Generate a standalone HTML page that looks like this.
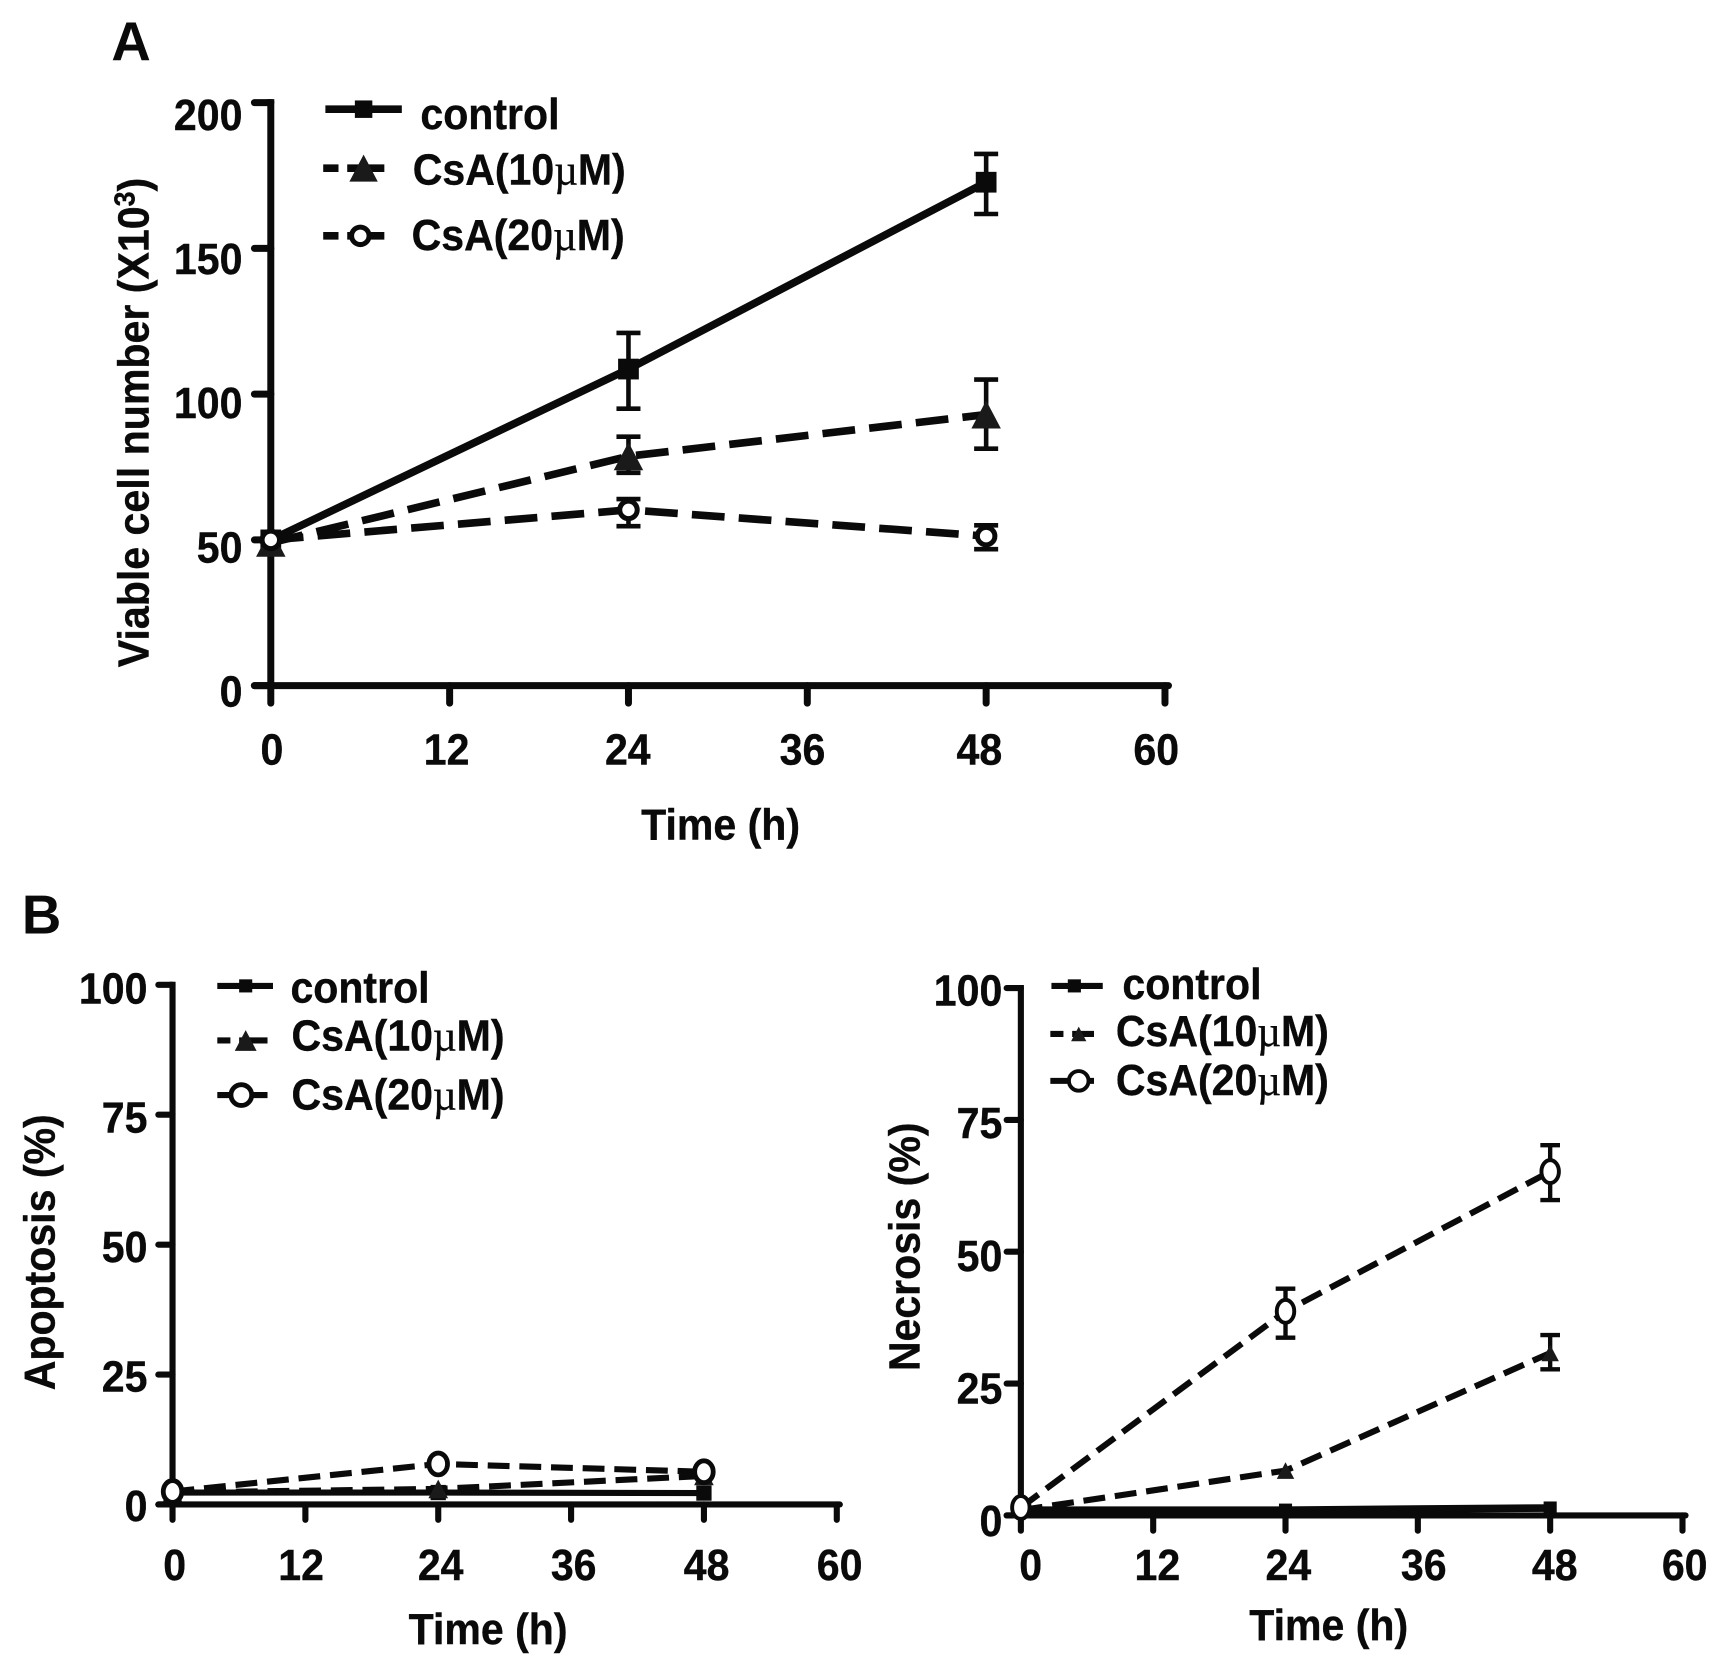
<!DOCTYPE html>
<html>
<head>
<meta charset="utf-8">
<title>Cell viability, apoptosis and necrosis over time</title>
<style>
html,body{margin:0;padding:0;background:#fff;}
svg{display:block;}
text{font-family:"Liberation Sans",sans-serif;font-weight:bold;fill:#0a0a0a;font-size:37.6px;}
.mu{font-family:"Liberation Serif",serif;font-weight:normal;}
</style>
</head>
<body>
<svg id="figure" width="1712" height="1658" viewBox="0 0 1568 1518.6" xmlns="http://www.w3.org/2000/svg">
  <rect x="0" y="0" width="1568" height="1518.6" fill="#fff"/>
  <text class="panel" x="102" y="55" style="font-size:50px">A</text>
  <text class="panel" x="20" y="855" style="font-size:50px">B</text>

  <text transform="translate(136,387) rotate(-90)" text-anchor="middle">Viable cell number (X10<tspan dy="-13" style="font-size:26px">3</tspan><tspan dy="13">)</tspan></text>
  <text x="660" y="769" text-anchor="middle">Time (h)</text>
  <text transform="translate(50,1147) rotate(-90)" text-anchor="middle">Apoptosis (%)</text>
  <text x="447" y="1506" text-anchor="middle">Time (h)</text>
  <text transform="translate(842,1142) rotate(-90)" text-anchor="middle">Necrosis (%)</text>
  <text x="1217" y="1502" text-anchor="middle">Time (h)</text>

  <text x="385" y="118">control</text>
  <text x="378" y="169">CsA(10<tspan class="mu">µ</tspan>M)</text>
  <text x="377" y="229">CsA(20<tspan class="mu">µ</tspan>M)</text>

  <text x="266" y="918">control</text>
  <text x="267" y="962">CsA(10<tspan class="mu">µ</tspan>M)</text>
  <text x="267" y="1016">CsA(20<tspan class="mu">µ</tspan>M)</text>

  <text x="1028" y="915">control</text>
  <text x="1022" y="958">CsA(10<tspan class="mu">µ</tspan>M)</text>
  <text x="1022" y="1003">CsA(20<tspan class="mu">µ</tspan>M)</text>
</svg>
<script>
// Shared categories and tick labels
const hours = [0, 24, 48];
const xTickLabels = [0, 12, 24, 36, 48, 60];
const viabilityTicks = [0, 50, 100, 150, 200];
const percentTicks = [0, 25, 50, 75, 100];

// Panel A: viable cell number
const viableControl = [50, 108.6, 172.7];
const viableControlHigh = [50, 121, 182.4];
const viableControlLow = [50, 95, 161.8];
const viableCsA10 = [49, 78.7, 93];
const viableCsA10High = [49, 85.4, 105];
const viableCsA10Low = [49, 73, 81.3];
const viableCsA20 = [50, 60.3, 51.3];
const viableCsA20High = [50, 64, 55];
const viableCsA20Low = [50, 54.7, 46.8];

// Panel B left: apoptosis
const apoptosisControl = [2.3, 2.3, 2.2];
const apoptosisCsA10 = [2.3, 3, 5.5];
const apoptosisCsA20 = [2.5, 7.8, 6.3];

// Panel B right: necrosis
const necrosisControl = [1, 1, 1.4];
const necrosisCsA10 = [1, 8.5, 30.8];
const necrosisCsA10High = [1, 8.5, 34.2];
const necrosisCsA10Low = [1, 8.5, 27.7];
const necrosisCsA20 = [1.5, 38.7, 65.2];
const necrosisCsA20High = [1.5, 43, 70.2];
const necrosisCsA20Low = [1.5, 33.7, 59.8];

const NS = 'http://www.w3.org/2000/svg';
const svg = document.getElementById('figure');

function make(tag, attrs, parent) {
  const el = document.createElementNS(NS, tag);
  for (const k in attrs) el.setAttribute(k, attrs[k]);
  (parent || svg).appendChild(el);
  return el;
}

function drawMarker(g, kind, cx, cy, size, circleRx, circleRy, sw, name) {
  let m;
  if (kind === 'square') {
    m = make('rect', {x: cx - size / 2, y: cy - size / 2, width: size, height: size, fill: '#0a0a0a'}, g);
  } else if (kind === 'triangle') {
    const h = size * 0.95;
    m = make('polygon', {points: (cx - size / 2) + ',' + (cy + h / 2) + ' ' + (cx + size / 2) + ',' + (cy + h / 2) + ' ' + cx + ',' + (cy - h / 2), fill: '#1a1a1a'}, g);
  } else {
    m = make('ellipse', {cx: cx, cy: cy, rx: circleRx, ry: circleRy, fill: '#fff', stroke: '#0a0a0a', 'stroke-width': sw}, g);
  }
  
  
}

function drawAxes(p) {
  const g = make('g', {}, svg);
  
  
  const top = p.y(p.yTicks[p.yTicks.length - 1]);
  const yAxis = make('line', {x1: p.x(0), x2: p.x(0), y1: top - p.axisW / 2, y2: p.y(0), stroke: '#0a0a0a', 'stroke-width': p.axisW}, g);
  
  
  const xAxis = make('line', {x1: p.x(0) - p.tick, x2: p.x(60) + p.axisW / 2, y1: p.y(0), y2: p.y(0), stroke: '#0a0a0a', 'stroke-width': p.axisW, 'stroke-linecap': 'round'}, g);
  
  
  p.yTicks.forEach(function (v) {
    const t = make('line', {x1: p.x(0) - p.tick, x2: p.x(0), y1: p.y(v), y2: p.y(v), stroke: '#0a0a0a', 'stroke-width': p.axisW, 'stroke-linecap': 'round'}, g);
    
    
    const l = make('text', {x: p.yLabelX, y: p.yLabel(v) + 14, 'text-anchor': 'end'}, g);
    l.textContent = v;
    
    
  });
  xTickLabels.forEach(function (v) {
    const t = make('line', {x1: p.x(v), x2: p.x(v), y1: p.y(0), y2: p.y(0) + p.tick + 1, stroke: '#0a0a0a', 'stroke-width': p.axisW, 'stroke-linecap': 'round'}, g);
    
    
    const l = make('text', {x: p.xLabel(v), y: p.xLabelY + 14, 'text-anchor': 'middle'}, g);
    l.textContent = v;
    
    
  });
}

function drawSeries(p, s) {
  const g = make('g', {}, svg);
  
  
  if (s.high && s.low) {
    hours.forEach(function (h, i) {
      if (s.high[i] === s.low[i]) return;
      const cx = p.x(h), y1 = p.y(s.high[i]), y2 = p.y(s.low[i]);
      const eb = make('path', {d: 'M' + (cx - p.cap) + ' ' + y1 + 'H' + (cx + p.cap) + 'M' + cx + ' ' + y1 + 'V' + y2 + 'M' + (cx - p.cap) + ' ' + y2 + 'H' + (cx + p.cap), fill: 'none', stroke: '#0a0a0a', 'stroke-width': p.errW}, g);
      
      
    });
  }
  const pts = hours.map(function (h, i) { return p.x(h) + ',' + p.y(s.values[i]); }).join(' ');
  const line = make('polyline', {points: pts, fill: 'none', stroke: '#0a0a0a', 'stroke-width': s.width || p.lineW}, g);
  if (s.dash) line.setAttribute('stroke-dasharray', p.dash);
  
  
  hours.forEach(function (h, i) {
    drawMarker(g, s.kind, p.x(h), p.y(s.values[i]), s.size, p.rx, p.ry, p.markW, p.id + '-' + s.name + '-point');
  });
}

function drawLegendKey(p, name, x1, x2, y, kind, mx, size, dash) {
  const g = make('g', {}, svg);
  
  
  const l = make('line', {x1: x1, x2: x2, y1: y, y2: y, stroke: '#0a0a0a', 'stroke-width': p.lineW}, g);
  if (dash) l.setAttribute('stroke-dasharray', dash);
  
  
  drawMarker(g, kind, mx, y, size, p.legendR, p.legendR, p.markW, p.id + '-legend-marker-' + name);
}

const panelA = {
  id: 'viable', axisW: 6.4, lineW: 7, errW: 4.2, markW: 4.6, cap: 11, tick: 15, rx: 8, ry: 8, legendR: 8, dash: '30 13',
  yTicks: viabilityTicks,
  x: function (v) { return 248 + v * 13.65; },
  y: function (v) { return 628 - v * 2.67; },
  yLabelX: 222,
  yLabel: function (v) { return 633 - v * 2.64; },
  xLabel: function (v) { return 249 + v * 13.5 + (v === 12 ? -2 : 0) + (v === 24 ? 2 : 0); },
  xLabelY: 686
};
const panelL = {
  id: 'apoptosis', axisW: 5.6, lineW: 5.6, errW: 4, markW: 4.4, cap: 9, tick: 13, rx: 8.5, ry: 10, legendR: 9.5, dash: '20 9',
  yTicks: percentTicks,
  x: function (v) { return 158 + v * 10.14; },
  y: function (v) { return 1378 - v * 4.76; },
  yLabelX: 135,
  yLabel: function (v) { return 1379 - v * 4.74; },
  xLabel: function (v) { return 160 + v * 10.15 + (v === 12 ? -6 : 0); },
  xLabelY: 1433
};
const panelR = {
  id: 'necrosis', axisW: 5.6, lineW: 5.6, errW: 4, markW: 3.6, cap: 9, tick: 13, rx: 8, ry: 10.5, legendR: 9, dash: '20 9',
  yTicks: percentTicks,
  x: function (v) { return 935 + v * 10.1; },
  y: function (v) { return 1388 - v * 4.83; },
  yLabelX: 918,
  yLabel: function (v) { return 1393 - v * 4.86; },
  xLabel: function (v) { return 944 + v * 10 + (v === 12 ? -4 : 0) + (v === 24 ? -4 : 0) + (v === 60 ? -1 : 0); },
  xLabelY: 1433
};

[panelA, panelL, panelR].forEach(drawAxes);

drawSeries(panelA, {name: 'control', values: viableControl, high: viableControlHigh, low: viableControlLow, kind: 'square', size: 19});
drawSeries(panelA, {name: 'csa10', values: viableCsA10, high: viableCsA10High, low: viableCsA10Low, kind: 'triangle', size: 27, dash: true});
drawSeries(panelA, {name: 'csa20', values: viableCsA20, high: viableCsA20High, low: viableCsA20Low, kind: 'circle', size: 0, dash: true});

drawSeries(panelL, {name: 'control', values: apoptosisControl, kind: 'square', size: 14});
drawSeries(panelL, {name: 'csa10', values: apoptosisCsA10, kind: 'triangle', size: 18, dash: true});
drawSeries(panelL, {name: 'csa20', values: apoptosisCsA20, kind: 'circle', size: 0, dash: true});

drawSeries(panelR, {name: 'control', values: necrosisControl, kind: 'square', size: 12, width: 7});
drawSeries(panelR, {name: 'csa10', values: necrosisCsA10, high: necrosisCsA10High, low: necrosisCsA10Low, kind: 'triangle', size: 16, dash: true});
drawSeries(panelR, {name: 'csa20', values: necrosisCsA20, high: necrosisCsA20High, low: necrosisCsA20Low, kind: 'circle', size: 0, dash: true});

drawLegendKey(panelA, 'control', 298, 368, 100, 'square', 333, 16);
drawLegendKey(panelA, 'csa10', 296, 352, 154, 'triangle', 333, 26, '14 8 34 0');
drawLegendKey(panelA, 'csa20', 296, 352, 216, 'circle', 330, 0, '14 8 34 0');

drawLegendKey(panelL, 'control', 199, 250, 903, 'square', 225, 12);
drawLegendKey(panelL, 'csa10', 199, 245, 953, 'triangle', 225, 20, '12 8 26 0');
drawLegendKey(panelL, 'csa20', 199, 245, 1003, 'circle', 221, 0, '12 8 26 0');

drawLegendKey(panelR, 'control', 963, 1010, 903, 'square', 984, 12);
drawLegendKey(panelR, 'csa10', 962, 1002, 947, 'triangle', 988, 14, '12 8 20 0');
drawLegendKey(panelR, 'csa20', 962, 1002, 990, 'circle', 988, 0);

// Reference type is slightly taller and heavier than Liberation Sans Bold: keep each string's width, grow its height.
svg.querySelectorAll('text:not(.panel)').forEach(function (t) {
  const w = t.getComputedTextLength();
  t.style.fontSize = '40px';
  t.style.stroke = '#0a0a0a';
  t.style.strokeWidth = '0.35px';
  t.setAttribute('textLength', w);
  t.setAttribute('lengthAdjust', 'spacingAndGlyphs');
});
</script>
</body>
</html>
